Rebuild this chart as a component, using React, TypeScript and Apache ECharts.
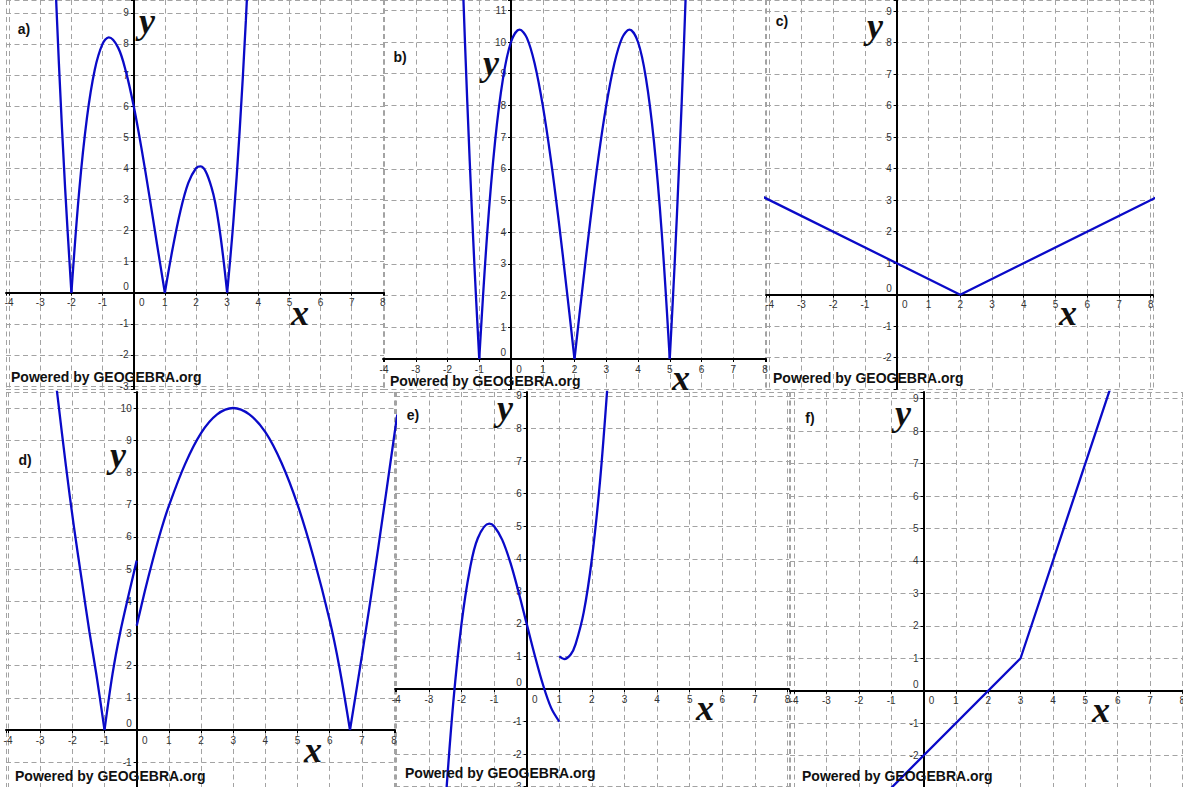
import React, { useEffect, useRef } from 'react';
import * as echarts from 'echarts';

// ---- Data (x, y pairs); each array is one unbroken piece of a curve ----
// a) zeros at -2, 1, 3
const aPiece1 = [[-2.6, 12.1], [-2.4, 7.34], [-2.2, 3.33], [-2, 0]];
const aPiece2 = [[-2, 0], [-1.75, 3.27], [-1.5, 5.63], [-1.25, 7.17], [-1, 8], [-0.8, 8.21], [-0.5, 7.88], [-0.25, 7.11], [0, 6], [0.25, 4.64], [0.5, 3.13], [0.75, 1.55], [1, 0]];
const aPiece3 = [[1, 0], [1.25, 1.42], [1.5, 2.63], [1.75, 3.52], [2, 4], [2.15, 4.06], [2.5, 3.38], [2.75, 2.08], [3, 0]];
const aPiece4 = [[3, 0], [3.2, 2.29], [3.4, 5.18], [3.6, 8.74], [3.8, 13]];

// b) zeros at -1, 2, 5
const bPiece1 = [[-1.6, 14.26], [-1.45, 10.0], [-1.3, 6.24], [-1.15, 2.91], [-1, 0]];
const bPiece2 = [[-1, 0], [-0.75, 3.95], [-0.5, 6.88], [-0.25, 8.86], [0, 10], [0.27, 10.39], [0.5, 10.13], [0.75, 9.3], [1, 8], [1.25, 6.33], [1.5, 4.38], [1.75, 2.23], [2, 0]];
const bPiece3 = [[2, 0], [2.25, 2.23], [2.5, 4.38], [2.75, 6.33], [3, 8], [3.25, 9.3], [3.5, 10.13], [3.73, 10.39], [4, 10], [4.25, 8.86], [4.5, 6.88], [4.75, 3.95], [5, 0]];
const bPiece4 = [[5, 0], [5.15, 2.91], [5.3, 6.24], [5.45, 10.0], [5.6, 14.26]];

// c) V shape with vertex (2, 0)
const cPiece1 = [[-4.2, 3.1], [2, 0], [8.2, 3.1]];

// d)
const dPiece1 = [[-2.55, 11.1], [-2.44, 10.2], [-2.2, 8.2], [-1.95, 6.3], [-1.7, 4.6], [-1.47, 3.05], [-1.25, 1.7], [-1, 0]];
const dPiece2 = [[-1, 0], [-0.75, 1.75], [-0.52, 3.0], [-0.25, 4.2], [0, 5.26]];
const dPiece3 = [[0, 3.24], [0.25, 4.3], [0.5, 5.28], [0.75, 6.18], [1, 6.96], [1.5, 8.25], [2, 9.22], [2.5, 9.8], [3, 10], [3.5, 9.8], [4, 9.25], [4.5, 8.3], [5, 7.0], [5.5, 5.35], [6, 3.4], [6.3, 1.95], [6.63, 0]];
const dPiece4 = [[6.63, 0], [7, 2.3], [7.5, 5.6], [8, 9.1], [8.1, 9.8]];

// e)
const ePiece1 = [[-2.5, -3.63], [-2.25, -0.39], [-2, 2], [-1.75, 3.64], [-1.5, 4.63], [-1.15, 5.08], [-1, 5], [-0.75, 4.58], [-0.5, 3.88], [-0.25, 2.98], [0, 2], [0.25, 1.02], [0.5, 0.13], [0.75, -0.58], [1, -1]];
const ePiece2 = [[1, 1], [1.15, 0.92], [1.35, 1.06], [1.5, 1.38], [1.75, 2.36], [2, 4], [2.25, 6.39], [2.5, 9.63]];

// f) broken line, corner at (3, 1)
const fPiece1 = [[-1.5, -3.5], [3, 1], [6, 10]];

const panelLetters = ['a)', 'b)', 'c)', 'd)', 'e)', 'f)'];
const poweredText = 'Powered by GEOGEBRA.org';

const pieces = [
  [aPiece1, aPiece2, aPiece3, aPiece4],
  [bPiece1, bPiece2, bPiece3, bPiece4],
  [cPiece1],
  [dPiece1, dPiece2, dPiece3, dPiece4],
  [ePiece1, ePiece2],
  [fPiece1],
];
const smoothFlags = [true, true, false, true, true, false];

// ---- Layout (pixels) ----
const panels = [
  { left: 6, top: 0, right: 384, bottom: 389, ox: 133.7, oy: 292.7, ux: 31.15, uy: 31.1 },
  { left: 383, top: 0, right: 766, bottom: 389, ox: 511, oy: 359, ux: 31.75, uy: 31.7 },
  { left: 766, top: 0, right: 1153, bottom: 389, ox: 896.7, oy: 294.7, ux: 31.75, uy: 31.5 },
  { left: 6, top: 392, right: 395, bottom: 787, ox: 136.7, oy: 730, ux: 32.17, uy: 32.2 },
  { left: 395, top: 392, right: 789, bottom: 787, ox: 526.7, oy: 689, ux: 32.6, uy: 32.56 },
  { left: 790, top: 392, right: 1183, bottom: 787, ox: 923.5, oy: 690.7, ux: 32.36, uy: 32.45 },
];
const letterPos = [[24, 29], [400, 57], [782, 21], [25, 460], [413, 415], [810, 418]];
const poweredPos = [[11, 377], [390, 381], [773, 378], [15, 776], [405, 773], [802, 776]];
const xLabelPos = [[300, 313], [681, 378], [1068, 313], [313, 750], [705, 708], [1101, 710]];
const yLabelPos = [[147, 21], [491, 63], [875, 26], [118, 455], [505, 408], [903, 413]];

const FONT = '"Liberation Sans", Arial, sans-serif';
const CURVE = '#0a0ac8';

export default function App() {
  const ref = useRef<HTMLDivElement>(null);

  useEffect(() => {
    if (!ref.current) return;
    const chart = echarts.init(ref.current, undefined, { renderer: 'svg' });

    const grids: any[] = [];
    const xAxes: any[] = [];
    const yAxes: any[] = [];
    const series: any[] = [];
    const graphic: any[] = [];

    const fmt = (v: number) => (v === 0 ? '{z|0}' : Number.isInteger(v) ? String(v) : '');

    panels.forEach((p, i) => {
      grids.push({
        left: p.left,
        top: p.top,
        width: p.right - p.left,
        height: p.bottom - p.top,
        containLabel: false,
        outerBoundsMode: 'none',
      });
      const xmin = (p.left - p.ox) / p.ux;
      const xmax = (p.right - p.ox) / p.ux;
      const ymin = (p.oy - p.bottom) / p.uy;
      const ymax = (p.oy - p.top) / p.uy;
      const common = {
        type: 'value',
        gridIndex: i,
        splitNumber: 12,
        minInterval: 1,
        maxInterval: 1,
        axisLine: { show: true, onZero: false, lineStyle: { color: '#000', width: 2 } },
        axisTick: { show: true, length: 3, lineStyle: { color: '#000', width: 1 } },
        splitLine: { show: true, lineStyle: { color: '#a3a3a3', width: 1, type: [5, 3.5] } },
        splitArea: { show: false },
      };
      xAxes.push({
        ...common,
        position: 'bottom',
        offset: -(p.bottom - p.oy),
        min: xmin,
        max: xmax,
        axisLabel: {
          show: true,
          margin: 5,
          fontSize: 10,
          color: '#333',
          fontFamily: FONT,
          formatter: fmt,
          rich: { z: { padding: [0, 0, 0, 16], fontSize: 10, color: '#333', fontFamily: FONT } },
        },
      });
      yAxes.push({
        ...common,
        position: 'left',
        offset: -(p.ox - p.left),
        min: ymin,
        max: ymax,
        axisLabel: {
          show: true,
          margin: 5,
          fontSize: 10,
          color: '#333',
          fontFamily: FONT,
          formatter: fmt,
          rich: { z: { padding: [0, 0, 13, 0], fontSize: 10, color: '#333', fontFamily: FONT } },
        },
      });

      pieces[i].forEach((seg) => {
        series.push({
          type: 'line',
          xAxisIndex: i,
          yAxisIndex: i,
          data: seg,
          showSymbol: false,
          symbol: 'none',
          smooth: smoothFlags[i] ? 0.35 : false,
          clip: true,
          silent: true,
          z: 5,
          lineStyle: { color: CURVE, width: 2.3 },
        });
      });

      graphic.push({
        type: 'text',
        x: letterPos[i][0],
        y: letterPos[i][1],
        z: 10,
        style: {
          text: panelLetters[i],
          fontFamily: FONT,
          fontWeight: 'bold',
          fontSize: 14,
          fill: '#111',
          textAlign: 'center',
          textVerticalAlign: 'middle',
        },
      });
      graphic.push({
        type: 'text',
        x: poweredPos[i][0],
        y: poweredPos[i][1],
        z: 10,
        style: {
          text: poweredText,
          fontFamily: FONT,
          fontWeight: 'bold',
          fontSize: 14,
          fill: '#111',
          textAlign: 'left',
          textVerticalAlign: 'middle',
        },
      });
      graphic.push({
        type: 'text',
        x: xLabelPos[i][0],
        y: xLabelPos[i][1],
        z: 10,
        style: {
          text: 'x',
          fontFamily: '"Liberation Serif", "DejaVu Serif", serif',
          fontStyle: 'italic',
          fontWeight: 'bold',
          fontSize: 36,
          fill: '#111',
          textAlign: 'center',
          textVerticalAlign: 'middle',
        },
      });
      graphic.push({
        type: 'text',
        x: yLabelPos[i][0],
        y: yLabelPos[i][1],
        z: 10,
        style: {
          text: 'y',
          fontFamily: '"Liberation Serif", "DejaVu Serif", serif',
          fontStyle: 'italic',
          fontWeight: 'bold',
          fontSize: 36,
          fill: '#111',
          textAlign: 'center',
          textVerticalAlign: 'middle',
        },
      });
    });

    chart.setOption({
      animation: false,
      backgroundColor: '#ffffff',
      grid: grids,
      xAxis: xAxes,
      yAxis: yAxes,
      series,
      graphic,
    });

    return () => {
      chart.dispose();
    };
  }, []);

  return (
    <div
      ref={ref}
      style={{ position: 'absolute', left: 0, top: 0, width: 1183, height: 787, background: '#fff' }}
    />
  );
}
